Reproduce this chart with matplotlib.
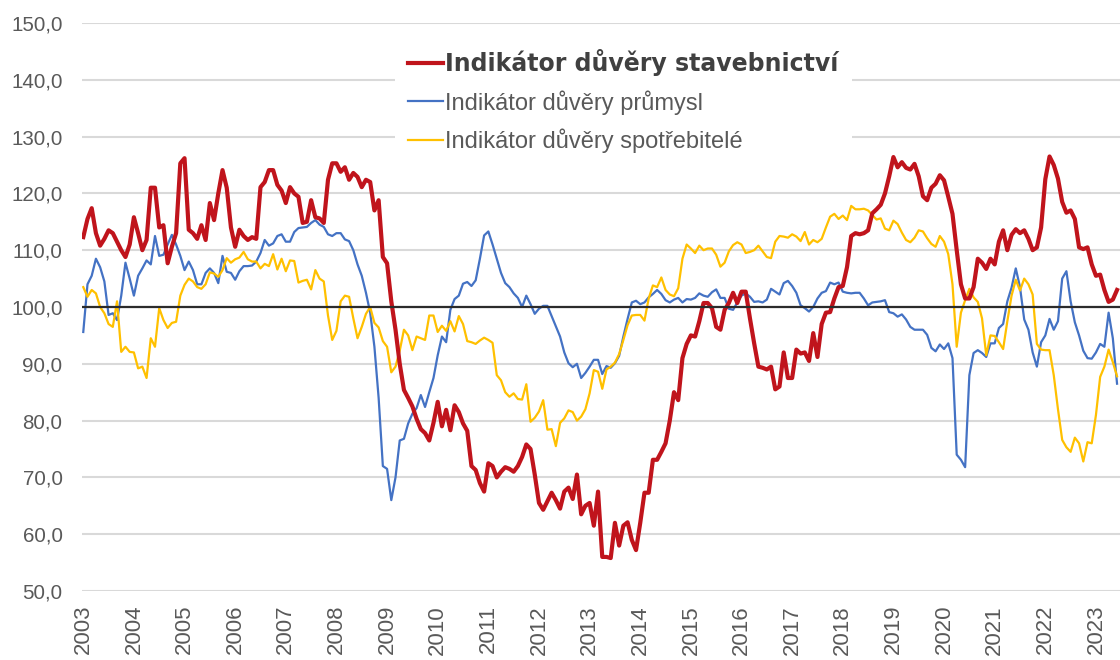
import matplotlib
matplotlib.use("Agg")
import matplotlib.pyplot as plt

# monthly values, Jan 2003 - Jun 2023
years = list(range(2003, 2024))

stavebnictvi = [
    112.3, 115.5, 117.4, 113.0, 110.8, 112.0, 113.5, 113.0, 111.5, 110.0, 108.8, 111.0,  # 2003
    115.8, 113.0, 110.0, 111.8, 121.0, 121.0, 114.0, 114.4, 107.7, 110.6, 113.0, 125.3,  # 2004
    126.2, 113.6, 113.0, 112.0, 114.4, 111.8, 118.3, 115.3, 120.0, 124.1, 121.0, 114.0,  # 2005
    110.6, 113.6, 112.5, 111.8, 112.3, 112.0, 121.1, 122.0, 124.1, 124.1, 121.5, 120.5,  # 2006
    118.3, 121.1, 120.0, 119.4, 114.8, 115.0, 118.8, 115.8, 115.6, 114.8, 122.4, 125.3,  # 2007
    125.3, 123.8, 124.6, 122.4, 123.6, 122.9, 121.1, 122.4, 122.0, 117.0, 118.8, 108.8,  # 2008
    107.7, 101.0, 96.0, 90.0, 85.4, 84.0, 82.5, 80.3, 78.5, 77.8, 76.5, 79.6,  # 2009
    83.3, 79.0, 81.9, 78.3, 82.7, 81.5, 79.5, 78.2, 72.0, 71.3, 69.0, 67.5,  # 2010
    72.5, 72.0, 70.0, 71.0, 71.8, 71.5, 71.0, 72.0, 73.6, 75.8, 75.0, 70.5,  # 2011
    65.5, 64.3, 65.8, 67.3, 66.0, 64.5, 67.5, 68.2, 66.2, 70.5, 63.5, 65.0,  # 2012
    65.5, 61.5, 67.5, 56.0, 56.0, 55.8, 62.0, 58.0, 61.5, 62.1, 59.0, 57.2,  # 2013
    62.0, 67.3, 67.3, 73.1, 73.1, 74.5, 76.0, 80.0, 85.0, 83.6, 91.0, 93.5,  # 2014
    95.0, 94.8, 97.5, 100.7, 100.7, 99.8, 96.5, 96.0, 99.5, 100.7, 102.5, 100.7,  # 2015
    102.7, 102.7, 98.0, 93.6, 89.5, 89.3, 89.0, 89.5, 85.5, 86.0, 92.0, 87.5,  # 2016
    87.5, 92.5, 91.8, 92.0, 90.5, 95.4, 91.2, 97.0, 99.0, 99.1, 101.5, 103.5,  # 2017
    103.7, 107.0, 112.5, 113.0, 112.8, 113.0, 113.5, 116.5, 117.2, 118.0, 120.0, 123.0,  # 2018
    126.4, 124.6, 125.5, 124.5, 124.2, 125.2, 123.0, 119.5, 118.8, 121.0, 121.7, 123.2,  # 2019
    122.3, 119.4, 116.4, 110.0, 104.0, 101.5, 101.5, 103.5, 108.5, 107.8, 106.7, 108.5,  # 2020
    107.5, 111.5, 113.5, 110.0, 112.7, 113.7, 113.0, 113.5, 112.0, 110.0, 110.5, 114.0,  # 2021
    122.5, 126.5, 125.0, 122.6, 118.5, 116.6, 117.0, 115.5, 110.5, 110.2, 110.5, 107.5,  # 2022
    105.5, 105.7, 103.0, 100.9, 101.3, 103.0,  # 2023
]

prumysl = [
    95.6, 104.0, 105.5, 108.5, 107.0, 104.5, 98.6, 98.9, 97.7, 102.0, 107.8, 105.0,  # 2003
    102.0, 105.5, 106.8, 108.2, 107.5, 112.5, 109.0, 109.2, 111.0, 112.7, 111.0, 109.0,  # 2004
    106.5, 108.0, 106.5, 104.0, 104.0, 106.0, 106.8, 106.0, 104.2, 109.0, 106.2, 106.0,  # 2005
    104.8, 106.3, 107.2, 107.2, 107.3, 108.0, 109.5, 111.8, 110.8, 111.2, 112.5, 112.8,  # 2006
    111.5, 111.5, 113.2, 113.9, 114.0, 114.1, 114.8, 115.3, 114.5, 114.1, 112.8, 112.5,  # 2007
    113.0, 113.0, 111.9, 111.6, 110.0, 107.5, 105.5, 102.5, 99.0, 93.0, 84.0, 72.0,  # 2008
    71.5, 66.0, 70.0, 76.5, 76.8, 79.5, 81.2, 82.2, 84.5, 82.4, 85.0, 87.5,  # 2009
    91.5, 94.8, 93.8, 99.5, 101.4, 102.0, 104.1, 104.4, 103.7, 104.7, 108.5, 112.6,  # 2010
    113.3, 111.0, 108.5, 106.0, 104.2, 103.5, 102.4, 101.6, 100.0, 102.0, 100.5, 98.8,  # 2011
    99.7, 100.2, 100.2, 98.4, 96.6, 94.8, 92.0, 90.1, 89.4, 90.0, 87.5, 88.4,  # 2012
    89.5, 90.7, 90.7, 88.2, 89.6, 89.3, 90.1, 91.4, 94.8, 97.9, 100.8, 101.1,  # 2013
    100.5, 100.8, 101.7, 102.3, 103.0, 102.3, 101.2, 100.8, 101.3, 101.6, 100.8, 101.4,  # 2014
    101.3, 101.6, 102.4, 102.0, 101.8, 102.6, 103.1, 101.6, 101.6, 99.7, 99.5, 100.8,  # 2015
    102.0, 102.4, 101.8, 100.9, 101.0, 100.8, 101.3, 103.2, 102.7, 102.2, 104.2, 104.6,  # 2016
    103.7, 102.5, 100.3, 99.8, 99.2, 100.0, 101.5, 102.5, 102.8, 104.3, 104.0, 104.3,  # 2017
    102.7, 102.5, 102.4, 102.5, 102.5, 101.5, 100.3, 100.8, 100.9, 101.0, 101.2, 99.1,  # 2018
    98.9, 98.3, 98.7, 97.8, 96.5, 96.0, 96.0, 96.0, 95.1, 92.8, 92.2, 93.4,  # 2019
    92.6, 93.6, 91.0, 74.0, 73.1, 71.8, 88.0, 91.9, 92.4, 91.9, 91.2, 93.6,  # 2020
    93.6, 96.3, 97.0, 101.0, 103.4, 106.8, 103.5, 97.8, 96.0, 92.0, 89.5, 93.8,  # 2021
    95.0, 97.9, 96.0, 97.5, 105.0, 106.3, 101.0, 97.3, 95.0, 92.3, 91.0, 90.9,  # 2022
    92.0, 93.5, 93.0, 99.0, 94.5, 86.5,  # 2023
]

spotrebitele = [
    103.5, 101.8, 103.0, 102.4, 100.0, 98.9, 97.0, 96.5, 101.0, 92.1, 93.0, 92.1,  # 2003
    92.0, 89.2, 89.5, 87.5, 94.5, 93.0, 99.8, 97.7, 96.3, 97.2, 97.4, 102.0,  # 2004
    103.9, 105.0, 104.5, 103.5, 103.2, 104.0, 106.1, 105.9, 105.3, 106.5, 108.6, 107.8,  # 2005
    108.4, 108.7, 109.7, 108.4, 108.0, 108.0, 106.8, 107.6, 107.2, 109.3, 106.6, 108.5,  # 2006
    106.3, 108.2, 108.1, 104.3, 104.6, 104.8, 103.1, 106.5, 105.0, 104.5, 98.5, 94.2,  # 2007
    95.8, 101.0, 102.0, 101.8, 98.0, 94.5, 96.5, 98.8, 100.0, 97.2, 96.4, 94.0,  # 2008
    93.0, 88.5, 89.5, 92.3, 96.0, 95.0, 92.4, 94.8, 94.5, 94.2, 98.5, 98.5,  # 2009
    95.6, 96.7, 95.8, 97.5, 95.7, 98.4, 97.0, 94.0, 93.8, 93.5, 94.1, 94.6,  # 2010
    94.2, 93.7, 88.0, 87.1, 85.0, 84.2, 84.8, 83.8, 83.7, 86.4, 79.8, 80.5,  # 2011
    81.6, 83.6, 78.4, 78.5, 75.5, 79.6, 80.4, 81.8, 81.5, 80.0, 80.7, 82.0,  # 2012
    84.8, 88.9, 88.6, 85.6, 89.0, 89.5, 90.2, 91.7, 94.2, 96.8, 98.5, 98.6,  # 2013
    98.6, 97.6, 101.5, 103.8, 103.5, 105.2, 103.0, 102.2, 101.9, 103.3, 108.5, 111.0,  # 2014
    110.3, 109.5, 110.8, 110.0, 110.3, 110.3, 109.2, 107.1, 107.8, 109.8, 110.9, 111.4,  # 2015
    111.0, 109.5, 109.7, 110.0, 110.8, 109.8, 108.8, 108.6, 111.5, 112.5, 112.4, 112.2,  # 2016
    112.8, 112.4, 111.6, 113.2, 111.0, 111.8, 111.4, 112.0, 114.0, 115.9, 116.4, 115.5,  # 2017
    116.1, 115.3, 117.8, 117.2, 117.2, 117.3, 117.0, 116.2, 115.4, 115.6, 113.8, 113.5,  # 2018
    115.2, 114.6, 113.1, 111.8, 111.4, 112.2, 113.5, 113.3, 112.1, 111.1, 110.6, 112.5,  # 2019
    111.5, 109.3, 104.0, 93.0, 99.0, 101.2, 103.2, 101.7, 100.9, 98.0, 91.5, 95.0,  # 2020
    94.9, 93.8, 92.6, 97.5, 102.0, 104.8, 102.9, 105.0, 104.0, 102.2, 93.5, 92.5,  # 2021
    92.4, 92.4, 88.0, 82.0, 76.6, 75.3, 74.5, 77.0, 76.0, 72.8, 76.2, 76.0,  # 2022
    81.0, 87.7, 89.5, 92.5, 90.3, 87.8,  # 2023
]

labels = ["Indikátor důvěry stavebnictví", "Indikátor důvěry průmysl",
          "Indikátor důvěry spotřebitelé"]
y_ticks = [50, 60, 70, 80, 90, 100, 110, 120, 130, 140, 150]

plt.rcParams['font.family'] = ['Liberation Sans', 'DejaVu Sans']
txt = '#595959'

fig = plt.figure(figsize=(11.2, 6.6), dpi=100)
ax = fig.add_axes([82 / 1120, 1 - 591 / 660, 1 - 82 / 1120, (591 - 23) / 660])

months = list(range(len(stavebnictvi)))
ax.plot(months, prumysl, color='#4472C4', lw=1.6, label=labels[1], zorder=3)
ax.plot(months, spotrebitele, color='#FFC000', lw=1.6, label=labels[2], zorder=3)
ax.plot(months, stavebnictvi, color='#C0141C', lw=3.0, label=labels[0], zorder=4)
ax.axhline(100, color='#2b2b2b', lw=1.6, zorder=5)

ax.set_ylim(50, 150)
ax.set_xlim(-0.3, 245.7)
ax.set_yticks(y_ticks)
ax.set_yticklabels([f"{v},0" for v in y_ticks], fontsize=14.8, color=txt)
ax.set_xticks([12 * i for i in range(len(years))])
ax.set_xticklabels([str(y) for y in years], rotation=90, fontsize=16, color=txt)
ax.tick_params(axis='y', length=0, pad=14)
ax.tick_params(axis='x', length=0, pad=10)
ax.grid(axis='y', color='#d9d9d9', lw=1.5)
ax.set_axisbelow(True)
for s in ax.spines.values():
    s.set_visible(False)

h, l = ax.get_legend_handles_labels()
order = [2, 0, 1]
leg = fig.legend([h[i] for i in order], [l[i] for i in order],
                 loc='upper left', bbox_to_anchor=(395 / 1120, 1 - 36 / 660),
                 fontsize=17, frameon=True, facecolor='white', edgecolor='none',
                 framealpha=1, fancybox=False, handlelength=1.5, handletextpad=0.08,
                 labelspacing=0.6, borderpad=0.55, borderaxespad=0)
for t in leg.get_texts():
    t.set_color(txt)
bold = leg.get_texts()[0]
bold.set_fontweight('bold')
bold.set_family('DejaVu Sans')
bold.set_color('#404040')

fig.savefig('out.png', dpi=100)
